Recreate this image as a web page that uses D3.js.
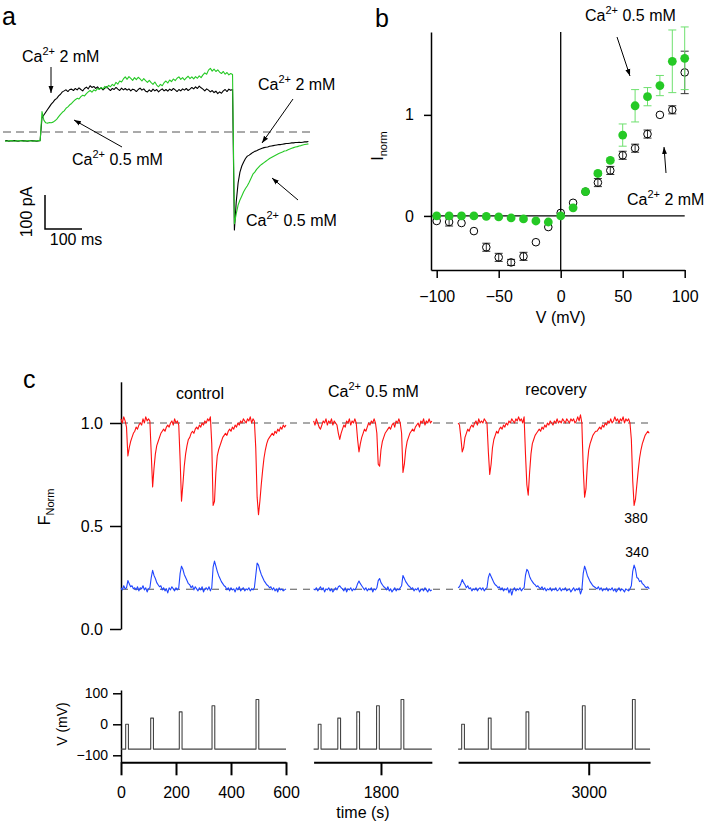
<!DOCTYPE html>
<html>
<head>
<meta charset="utf-8">
<title>Ca2+ currents and fura-2 signals</title>
<script src="https://cdn.jsdelivr.net/npm/d3@7/dist/d3.min.js"></script>
<style>
  html, body { margin: 0; background: #ffffff; }
  svg { display: block; font-family: "Liberation Sans", Arial, Helvetica, sans-serif; }
  text { fill: #000000; }
  .axis path, .axis line { stroke: #000000; stroke-width: 1.5px; }
  .axis text { font-size: 16px; fill: #000000; }
  .trace { fill: none; stroke-width: 1.1px; stroke-linejoin: round; }
  .dashed { stroke: #555555; stroke-width: 1px; stroke-dasharray: 7 6; }
</style>
</head>
<body>
<svg id="figure" width="708" height="827"></svg>
<script>
// ---------- (a) whole-cell current in pA, one sample every 5 ms from -100 ms ----------
const currentT0 = -100;
const currentDt = 5;
const current2mM = [
  -26, -25, -27, -26, -26, -25, -26, -27, -26, -25,
  -26, -26, -27, -26, -25, -26, -26, -27, -26, -25,
  42, 50, 58, 66, 74, 82, 88, 95, 99, 106,
  111, 118, 121, 124, 119, 125, 126, 122, 128, 124,
  130, 125, 121, 128, 132, 127, 136, 131, 134, 128,
  133, 126, 130, 124, 129, 133, 127, 122, 128, 125,
  131, 126, 122, 129, 124, 128, 123, 127, 121, 126,
  124, 119, 125, 129, 123, 127, 120, 118, 124, 119,
  126, 121, 125, 118, 123, 127, 121, 125, 120, 126,
  122, 128, 124, 119, 125, 121, 127, 123, 128, 122,
  126, 131, 127, 133, 128, 135, 130, 126, 121, 127,
  123, 118, 122, 116, 120, 113, 118, 114, 121, 125,
  119, 126, 123, 125, -288, -205, -150, -118, -100, -88,
  -78, -71, -68, -64, -60, -57, -55, -52, -50, -48,
  -46, -45, -44, -42, -41, -40, -39, -38, -37, -37,
  -36, -35, -34, -34, -33, -32, -32, -31, -31, -30,
  -31, -30, -29, -29, -28
];
const current05mM = [
  -26, -27, -26, -25, -26, -27, -26, -26, -25, -26,
  -27, -26, -26, -25, -26, -27, -26, -26, -25, -26,
  60, 35, 27, 26, 28, 27, 29, 33, 38, 45,
  52, 58, 62, 70, 74, 80, 84, 90, 95, 99,
  97, 104, 108, 106, 113, 118, 122, 117, 124, 121,
  128, 125, 131, 127, 134, 130, 137, 133, 140, 136,
  146, 141, 150, 147, 156, 162, 155, 163, 158, 152,
  160, 154, 161, 156, 150, 157, 151, 146, 152, 145,
  140, 147, 138, 133, 140, 136, 145, 150, 144, 153,
  148, 156, 151, 158, 162, 155, 160, 153, 159, 164,
  157, 162, 156, 163, 158, 165, 160, 168, 174, 170,
  182, 187, 179, 185, 178, 183, 176, 172, 178, 170,
  175, 168, 172, 169, -270, -240, -215, -200, -188, -176,
  -166, -158, -148, -136, -124, -118, -110, -104, -98, -94,
  -90, -86, -82, -78, -75, -72, -69, -66, -63, -61,
  -59, -56, -55, -52, -50, -48, -46, -44, -43, -41,
  -40, -38, -37, -36, -35
];

// ---------- (b) normalised I-V relation ----------
const ivVoltage = [-100, -90, -80, -70, -60, -50, -40, -30, -20, -10, 0, 10, 20, 30, 40, 50, 60, 70, 80, 90, 100];
const iv2mM = [-0.05, -0.06, -0.07, -0.15, -0.31, -0.41, -0.46, -0.40, -0.26, -0.11, 0.03, 0.13, 0.24, 0.33, 0.45, 0.60, 0.67, 0.81, 1.00, 1.05, 1.42];
const iv2mMErr = [0, 0.04, 0, 0, 0.04, 0.04, 0.03, 0.04, 0, 0, 0, 0, 0, 0.04, 0.04, 0.04, 0.04, 0.04, 0, 0.04, 0.21];
const iv05mM = [0.00, 0.00, 0.00, 0.00, -0.005, -0.01, -0.02, -0.03, -0.05, -0.06, 0.00, 0.08, 0.24, 0.42, 0.55, 0.80, 1.09, 1.18, 1.29, 1.53, 1.56];
const iv05mMErr = [0, 0, 0, 0, 0, 0, 0, 0, 0, 0, 0, 0, 0, 0.02, 0.02, 0.11, 0.16, 0.09, 0.10, 0.31, 0.31];

// ---------- (c) normalised fura-2 fluorescence, one sample every 5 s ----------
const fDt = 5;
const segmentStart = [0, 1555, 2525];
const segmentEnd = [600, 1985, 3223];
const segmentTicks = [[0, 200, 400, 600], [1800], [3000]];

const f380Control = [
  1.02, 1.00, 1.03, 1.01, 0.98, 0.84, 0.88, 0.91, 0.93, 0.95,
  0.96, 0.98, 0.97, 0.99, 1.00, 0.99, 1.02, 1.00, 1.03, 1.01,
  1.02, 1.01, 0.85, 0.69, 0.78, 0.85, 0.89, 0.91, 0.93, 0.95,
  0.96, 0.97, 0.96, 0.98, 0.99, 0.98, 1.00, 1.01, 0.99, 1.02,
  1.00, 1.01, 0.99, 0.82, 0.62, 0.70, 0.79, 0.85, 0.89, 0.92,
  0.93, 0.95, 0.96, 0.95, 0.97, 0.98, 0.97, 0.99, 0.98, 1.00,
  0.99, 1.01, 1.00, 1.02, 1.01, 1.03, 0.90, 0.60, 0.62, 0.76,
  0.84, 0.87, 0.89, 0.91, 0.93, 0.94, 0.95, 0.94, 0.96, 0.97,
  0.96, 0.98, 0.97, 0.99, 0.98, 1.00, 0.99, 1.01, 1.00, 1.02,
  1.01, 1.00, 1.02, 1.01, 1.03, 1.00, 1.02, 1.01, 0.88, 0.64,
  0.555, 0.62, 0.70, 0.77, 0.83, 0.87, 0.90, 0.92, 0.93, 0.94,
  0.95, 0.94, 0.96, 0.95, 0.97, 0.96, 0.98, 0.97, 0.99, 0.98,
  0.99
];
const f380Ca = [
  1.01, 0.99, 1.02, 1.00, 0.98, 0.97, 0.99, 1.01, 1.00, 1.02,
  0.99, 1.01, 1.00, 1.02, 0.99, 1.01, 1.00, 0.99, 0.95, 0.92,
  0.95, 0.97, 0.99, 0.98, 1.01, 1.00, 1.02, 0.99, 1.01, 1.00,
  1.02, 1.00, 0.92, 0.86, 0.90, 0.93, 0.95, 0.97, 0.96, 0.98,
  1.00, 0.99, 1.01, 1.00, 1.02, 1.00, 0.95, 0.80, 0.79, 0.87,
  0.91, 0.93, 0.95, 0.96, 0.97, 0.98, 0.97, 0.99, 1.00, 0.98,
  1.01, 1.00, 1.02, 1.00, 0.95, 0.76, 0.80, 0.87, 0.91, 0.93,
  0.95, 0.96, 0.97, 0.96, 0.98, 0.99, 1.00, 0.98, 1.01, 1.00,
  1.02, 0.99, 1.01, 1.00, 1.02, 1.00, 1.01
];
const f380Recovery = [
  1.00, 0.99, 0.93, 0.86, 0.88, 0.93, 0.95, 0.97, 0.96, 0.98,
  0.99, 0.98, 1.00, 1.01, 0.99, 1.02, 1.00, 1.01, 1.00, 1.02,
  1.01, 1.00, 0.86, 0.75, 0.80, 0.88, 0.92, 0.94, 0.96, 0.95,
  0.97, 0.98, 0.97, 0.99, 0.98, 1.00, 0.99, 1.01, 1.00, 1.02,
  1.01, 1.00, 1.02, 1.01, 1.03, 1.01, 1.02, 1.00, 1.03, 0.85,
  0.70, 0.65, 0.76, 0.85, 0.90, 0.92, 0.94, 0.95, 0.96, 0.97,
  0.96, 0.98, 0.97, 0.99, 0.98, 1.00, 0.99, 1.01, 1.00, 0.99,
  1.01, 1.00, 1.02, 1.00, 1.01, 1.00, 1.02, 1.01, 1.00, 1.02,
  1.01, 1.00, 1.02, 1.01, 1.02, 1.00, 1.01, 1.03, 1.01, 1.04,
  1.00, 0.78, 0.64, 0.68, 0.80, 0.87, 0.90, 0.92, 0.94, 0.95,
  0.96, 0.96, 0.97, 0.98, 0.97, 0.99, 0.98, 1.00, 0.99, 1.01,
  1.00, 1.02, 1.00, 1.01, 1.03, 1.01, 1.02, 1.00, 1.02, 1.01,
  1.03, 1.00, 1.02, 1.01, 1.02, 1.00, 0.92, 0.72, 0.60, 0.63,
  0.70, 0.77, 0.83, 0.87, 0.90, 0.92, 0.94, 0.95, 0.96, 0.95
];
const f340Control = [
  0.20, 0.19, 0.21, 0.195, 0.20, 0.235, 0.22, 0.205, 0.21, 0.195,
  0.20, 0.19, 0.205, 0.185, 0.20, 0.195, 0.21, 0.19, 0.20, 0.18,
  0.195, 0.20, 0.25, 0.285, 0.26, 0.245, 0.225, 0.215, 0.205, 0.21,
  0.19, 0.20, 0.185, 0.195, 0.175, 0.20, 0.19, 0.205, 0.195, 0.185,
  0.20, 0.19, 0.20, 0.27, 0.305, 0.29, 0.265, 0.25, 0.235, 0.22,
  0.215, 0.20, 0.21, 0.19, 0.205, 0.195, 0.185, 0.20, 0.19, 0.205,
  0.18, 0.195, 0.20, 0.19, 0.205, 0.185, 0.20, 0.30, 0.33, 0.305,
  0.28, 0.26, 0.245, 0.23, 0.22, 0.21, 0.205, 0.19, 0.20, 0.185,
  0.20, 0.19, 0.195, 0.18, 0.20, 0.19, 0.205, 0.185, 0.195, 0.20,
  0.185, 0.195, 0.19, 0.20, 0.185, 0.195, 0.19, 0.20, 0.26, 0.32,
  0.31, 0.285, 0.265, 0.25, 0.235, 0.225, 0.215, 0.21, 0.20, 0.205,
  0.19, 0.20, 0.185, 0.195, 0.18, 0.20, 0.19, 0.195, 0.185, 0.19,
  0.195
];
const f340Ca = [
  0.195, 0.19, 0.20, 0.185, 0.195, 0.205, 0.19, 0.20, 0.18, 0.195,
  0.19, 0.20, 0.185, 0.195, 0.18, 0.19, 0.20, 0.19, 0.205, 0.21,
  0.20, 0.195, 0.185, 0.20, 0.18, 0.195, 0.19, 0.20, 0.185, 0.195,
  0.19, 0.20, 0.22, 0.233, 0.22, 0.21, 0.20, 0.19, 0.20, 0.185,
  0.195, 0.19, 0.20, 0.18, 0.195, 0.19, 0.20, 0.235, 0.245, 0.225,
  0.215, 0.205, 0.20, 0.19, 0.205, 0.185, 0.195, 0.18, 0.19, 0.20,
  0.185, 0.195, 0.19, 0.20, 0.21, 0.26, 0.245, 0.23, 0.22, 0.21,
  0.205, 0.195, 0.20, 0.185, 0.195, 0.19, 0.20, 0.18, 0.19, 0.195,
  0.185, 0.20, 0.19, 0.18, 0.195, 0.185, 0.19
];
const f340Recovery = [
  0.20, 0.205, 0.22, 0.24, 0.225, 0.215, 0.20, 0.21, 0.195, 0.20,
  0.185, 0.195, 0.19, 0.20, 0.185, 0.195, 0.20, 0.19, 0.20, 0.185,
  0.195, 0.20, 0.25, 0.27, 0.255, 0.24, 0.225, 0.215, 0.21, 0.20,
  0.205, 0.19, 0.20, 0.185, 0.195, 0.19, 0.20, 0.175, 0.195, 0.165,
  0.19, 0.20, 0.185, 0.195, 0.19, 0.20, 0.185, 0.195, 0.20, 0.26,
  0.29, 0.28, 0.255, 0.24, 0.23, 0.22, 0.215, 0.205, 0.21, 0.20,
  0.195, 0.205, 0.19, 0.20, 0.185, 0.195, 0.19, 0.20, 0.185, 0.195,
  0.19, 0.20, 0.185, 0.19, 0.20, 0.185, 0.195, 0.19, 0.20, 0.185,
  0.19, 0.195, 0.18, 0.19, 0.20, 0.185, 0.195, 0.19, 0.20, 0.17,
  0.19, 0.27, 0.305, 0.285, 0.26, 0.245, 0.23, 0.22, 0.21, 0.205,
  0.20, 0.195, 0.205, 0.19, 0.20, 0.185, 0.195, 0.19, 0.20, 0.185,
  0.195, 0.19, 0.20, 0.185, 0.195, 0.18, 0.19, 0.20, 0.185, 0.195,
  0.19, 0.18, 0.195, 0.19, 0.185, 0.195, 0.21, 0.28, 0.31, 0.29,
  0.25, 0.245, 0.23, 0.235, 0.22, 0.215, 0.205, 0.20, 0.205, 0.195
];
const baseline380 = 1.0;
const baseline340 = 0.193;

// voltage protocol (mV) for each segment
const pulseTimes = [
  [17, 108, 212, 331, 491],
  [1572, 1643, 1712, 1784, 1873],
  [2538, 2635, 2772, 2977, 3159]
];
const pulseLevels = [0, 20, 40, 60, 80];
const holdingPotential = -80;
const pulseWidth = 10;

// ---------- drawing ----------
const GREEN = "#25c925";
const GREEN_LIGHT = "#6ee06e";
const RED = "#ff1010";
const BLUE = "#1f45ff";

const svg = d3.select("#figure");

svg.append("defs").append("marker")
  .attr("id", "head")
  .attr("viewBox", "0 0 10 10")
  .attr("refX", 10)
  .attr("refY", 5)
  .attr("markerWidth", 7)
  .attr("markerHeight", 7)
  .attr("orient", "auto")
  .append("path")
  .attr("d", "M0,1.5L10,5L0,8.5Z")
  .attr("fill", "#000000");

function arrow(x1, y1, x2, y2) {
  svg.append("line")
    .attr("x1", x1).attr("y1", y1)
    .attr("x2", x2).attr("y2", y2)
    .attr("stroke", "#000000")
    .attr("stroke-width", 1)
    .attr("marker-end", "url(#head)");
}

function caLabel(x, y, conc) {
  const t = svg.append("text")
    .attr("x", x).attr("y", y)
    .attr("font-size", 16);
  t.append("tspan").text("Ca");
  t.append("tspan").attr("font-size", 11).attr("dy", -7).text("2+");
  t.append("tspan").attr("dy", 7).text("\u00a0" + conc);
}

function panelLabel(txt, x, y) {
  svg.append("text").attr("x", x).attr("y", y).attr("font-size", 25).text(txt);
}

function styleAxis(g) {
  g.attr("font-family", null).attr("font-size", null);
  return g;
}

// ===== panel a =====
panelLabel("a", 2, 25);

const xA = d3.scaleLinear().domain([0, 100]).range([42, 79]);
const yA = d3.scaleLinear().domain([0, 100]).range([132, 98]);
const lineA = d3.line()
  .x((d, i) => xA(currentT0 + i * currentDt))
  .y((d) => yA(d));

svg.append("line")
  .attr("class", "dashed")
  .style("stroke-dasharray", "8 5")
  .attr("x1", 3).attr("x2", 310)
  .attr("y1", yA(0)).attr("y2", yA(0));

svg.append("path").datum(current2mM)
  .attr("class", "trace").attr("stroke", "#000000").attr("d", lineA);
svg.append("path").datum(current05mM)
  .attr("class", "trace").attr("stroke", GREEN).attr("d", lineA);

// scale bar: 100 pA / 100 ms
const barX = 45;
const barY = 229;
svg.append("path")
  .attr("d", `M${barX},${barY - (yA(0) - yA(100))}V${barY}H${barX + xA(100) - xA(0)}`)
  .attr("fill", "none")
  .attr("stroke", "#000000")
  .attr("stroke-width", 1.5);
svg.append("text")
  .attr("transform", `translate(32,${barY - 17}) rotate(-90)`)
  .attr("text-anchor", "middle")
  .attr("font-size", 16)
  .text("100 pA");
svg.append("text")
  .attr("x", 76).attr("y", 245)
  .attr("text-anchor", "middle")
  .attr("font-size", 16)
  .text("100 ms");

caLabel(22, 62, "2 mM");
arrow(51, 67, 51, 93);
caLabel(72, 165, "0.5 mM");
arrow(122, 147, 74, 120);
caLabel(258, 90, "2 mM");
arrow(293, 99, 262, 143);
caLabel(246, 226, "0.5 mM");
arrow(298, 200, 272, 178);

// ===== panel b =====
panelLabel("b", 375, 27);

const xB = d3.scaleLinear().domain([-104.6, 100]).range([431, 684.7]);
const yB = d3.scaleLinear().domain([-0.535, 1.82]).range([270, 32]);

svg.append("g")
  .attr("class", "axis")
  .attr("transform", "translate(0,270)")
  .call(d3.axisBottom(xB).tickValues([-100, -50, 0, 50, 100]).tickSize(8).tickSizeOuter(0).tickPadding(13))
  .call(styleAxis);

svg.append("g")
  .attr("class", "axis")
  .attr("transform", "translate(431,0)")
  .call(d3.axisLeft(yB).tickValues([0, 1]).tickFormat(d3.format("d")).tickSize(7).tickSizeOuter(0).tickPadding(10))
  .call(styleAxis);

// zero lines
svg.append("line")
  .attr("x1", xB(-104.6)).attr("x2", xB(100))
  .attr("y1", yB(0)).attr("y2", yB(0))
  .attr("stroke", "#000000").attr("stroke-width", 1.3);
svg.append("line")
  .attr("x1", xB(0)).attr("x2", xB(0))
  .attr("y1", yB(1.82)).attr("y2", yB(-0.535))
  .attr("stroke", "#000000").attr("stroke-width", 1.3);

function errorBars(values, errs, color) {
  const rows = ivVoltage
    .map((v, i) => ({v, m: values[i], e: errs[i]}))
    .filter((d) => d.e > 0);
  svg.append("g")
    .attr("fill", "none")
    .attr("stroke", color)
    .attr("stroke-width", 1)
    .selectAll("path")
    .data(rows)
    .join("path")
    .attr("d", (d) => {
      const x = xB(d.v);
      const lo = yB(d.m - d.e);
      const hi = yB(d.m + d.e);
      return `M${x},${lo}V${hi}M${x - 4},${lo}H${x + 4}M${x - 4},${hi}H${x + 4}`;
    });
}

errorBars(iv2mM, iv2mMErr, "#333333");
svg.append("g")
  .selectAll("circle")
  .data(ivVoltage)
  .join("circle")
  .attr("cx", (d) => xB(d))
  .attr("cy", (d, i) => yB(iv2mM[i]))
  .attr("r", 3.8)
  .attr("fill", "none")
  .attr("stroke", "#000000")
  .attr("stroke-width", 1);

errorBars(iv05mM, iv05mMErr, GREEN_LIGHT);
svg.append("g")
  .selectAll("circle")
  .data(ivVoltage)
  .join("circle")
  .attr("cx", (d) => xB(d))
  .attr("cy", (d, i) => yB(iv05mM[i]))
  .attr("r", 4.4)
  .attr("fill", GREEN);

svg.append("text")
  .attr("x", xB(0)).attr("y", 323)
  .attr("text-anchor", "middle")
  .attr("font-size", 16)
  .text("V (mV)");

const iLabel = svg.append("text")
  .attr("transform", "translate(383,146) rotate(-90)")
  .attr("text-anchor", "middle")
  .attr("font-size", 16);
iLabel.append("tspan").text("I");
iLabel.append("tspan").attr("font-size", 11).attr("dy", 4).text("norm");

caLabel(585, 21, "0.5 mM");
arrow(617, 37, 630, 76);
caLabel(627, 205, "2 mM");
arrow(666, 173, 664, 147);

// ===== panel c =====
panelLabel("c", 23, 388);

const pxPerSecond = 0.275;
const segmentLeft = [121, 313.6, 458.1];
const xC = segmentStart.map((s, k) =>
  d3.scaleLinear()
    .domain([s, segmentEnd[k]])
    .range([segmentLeft[k], segmentLeft[k] + (segmentEnd[k] - s) * pxPerSecond]));

const yF = d3.scaleLinear().domain([0, 1.2]).range([629, 381.8]);

svg.append("g")
  .attr("class", "axis")
  .attr("transform", "translate(121,0)")
  .call(d3.axisLeft(yF).tickValues([0, 0.5, 1.0]).tickFormat(d3.format(".1f")).tickSize(11).tickSizeOuter(0).tickPadding(7))
  .call(styleAxis);

// dashed resting levels
[baseline380, baseline340].forEach((b) => {
  svg.append("line")
    .attr("class", "dashed")
    .attr("x1", xC[0](0)).attr("x2", xC[2](3223))
    .attr("y1", yF(b)).attr("y2", yF(b));
});

const f380 = [f380Control, f380Ca, f380Recovery];
const f340 = [f340Control, f340Ca, f340Recovery];

xC.forEach((x, k) => {
  const line = d3.line()
    .x((d, i) => x(segmentStart[k] + i * fDt))
    .y((d) => yF(d));
  svg.append("path").datum(f380[k])
    .attr("class", "trace").attr("stroke", RED).attr("d", line);
  svg.append("path").datum(f340[k])
    .attr("class", "trace").attr("stroke", BLUE).attr("d", line);
});

const fLabel = svg.append("text")
  .attr("transform", "translate(50,507) rotate(-90)")
  .attr("text-anchor", "middle")
  .attr("font-size", 16);
fLabel.append("tspan").text("F");
fLabel.append("tspan").attr("font-size", 11).attr("dy", 4).text("Norm");

svg.append("text").attr("x", 200).attr("y", 399)
  .attr("text-anchor", "middle").attr("font-size", 16).text("control");
caLabel(328, 397, "0.5 mM");
svg.append("text").attr("x", 556).attr("y", 395)
  .attr("text-anchor", "middle").attr("font-size", 16).text("recovery");
svg.append("text").attr("x", 636).attr("y", 523)
  .attr("text-anchor", "middle").attr("font-size", 14).text("380");
svg.append("text").attr("x", 637).attr("y", 557)
  .attr("text-anchor", "middle").attr("font-size", 14).text("340");

// voltage protocol
const yV = d3.scaleLinear().domain([-122.6, 110.6]).range([762.3, 690]);

svg.append("g")
  .attr("class", "axis v-axis")
  .attr("transform", "translate(121,0)")
  .call(d3.axisLeft(yV).tickValues([-100, 0, 100]).tickSize(8).tickSizeOuter(0).tickPadding(5))
  .call(styleAxis)
  .selectAll("text").style("font-size", "14px");

const lineV = d3.line().x((d) => d[0]).y((d) => yV(d[1]));
xC.forEach((x, k) => {
  const pts = [[x(segmentStart[k]), holdingPotential]];
  pulseTimes[k].forEach((t, j) => {
    pts.push([x(t), holdingPotential]);
    pts.push([x(t), pulseLevels[j]]);
    pts.push([x(t + pulseWidth), pulseLevels[j]]);
    pts.push([x(t + pulseWidth), holdingPotential]);
  });
  pts.push([x(segmentEnd[k]), holdingPotential]);
  svg.append("path").datum(pts)
    .attr("class", "trace")
    .attr("stroke", "#444444")
    .attr("d", lineV);

  svg.append("g")
    .attr("class", "axis time-axis")
    .attr("transform", "translate(0,762.3)")
    .call(d3.axisBottom(x).tickValues(segmentTicks[k]).tickFormat(d3.format("d")).tickSize(13).tickSizeOuter(0).tickPadding(11))
    .call(styleAxis)
    .selectAll("path, line").style("stroke-width", "2px");
});

svg.append("text")
  .attr("transform", "translate(67,724) rotate(-90)")
  .attr("text-anchor", "middle")
  .attr("font-size", 14)
  .text("V (mV)");

svg.append("text")
  .attr("x", 363).attr("y", 818)
  .attr("text-anchor", "middle")
  .attr("font-size", 16)
  .text("time (s)");
</script>
</body>
</html>
